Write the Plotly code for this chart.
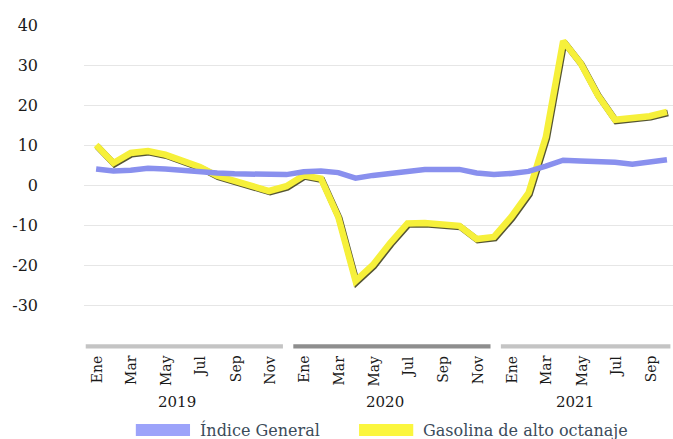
import plotly.graph_objects as go

# ---- data ----
month_names = ["Ene", "Feb", "Mar", "Abr", "May", "Jun", "Jul", "Ago", "Sep", "Oct", "Nov", "Dic"]
years = [2019, 2020, 2021]
n_months = 34  # Ene 2019 .. Oct 2021

indice_general = [4.0, 3.5, 3.7, 4.2, 4.0, 3.6, 3.3, 3.0, 2.8, 2.7, 2.6, 2.6,
                  3.3, 3.5, 3.1, 1.7, 2.4, 2.9, 3.4, 3.9, 3.9, 3.9, 3.0, 2.6,
                  2.9, 3.4, 4.7, 6.2, 6.0, 5.9, 5.7, 5.2, 5.8, 6.3]
gasolina = [10.0, 5.5, 8.0, 8.5, 7.6, 6.2, 4.5, 2.3, 1.0, -0.5, -1.5, -0.3,
            2.4, 1.6, -8.0, -24.0, -20.0, -14.5, -9.6, -9.5, -9.8, -10.2, -13.5, -13.0,
            -8.0, -2.0, 12.0, 36.0, 30.5, 22.5, 16.3, 16.7, 17.2, 18.3]
y_ticks = [-30, -20, -10, 0, 10, 20, 30, 40]

# ---- derived ----
cat_month = [month_names[i % 12] for i in range(n_months)]
cat_year = [years[0] + i // 12 for i in range(n_months)]
idx = list(range(n_months))

FONT = "DejaVu Serif"

fig = go.Figure()

# subtle dark shadow under the yellow line (3D look)
fig.add_trace(go.Scatter(
    x=[i + 0.06 for i in idx], y=[v - 0.3 for v in gasolina],
    mode="lines", line=dict(color="rgba(55,55,15,0.85)", width=6.5),
    hoverinfo="skip", showlegend=False))
fig.add_trace(go.Scatter(
    x=idx, y=gasolina, name="Gasolina de alto octanaje",
    mode="lines", line=dict(color="#f6f03a", width=6.5), showlegend=False))
fig.add_trace(go.Scatter(
    x=idx, y=indice_general, name="Índice General",
    mode="lines", line=dict(color="#8990ee", width=5.5), showlegend=False))

shapes = []
annotations = []
# year group bars + labels
for g, yr in enumerate(years):
    members = [i for i in idx if cat_year[i] == yr]
    first, last = members[0], members[-1]
    x0 = first - 0.6
    x1 = last - 0.2 if g < len(years) - 1 else last + 0.2
    shapes.append(dict(type="rect", xref="x", yref="paper", x0=x0, x1=x1,
                       y0=-0.011, y1=0.002, line=dict(width=0),
                       fillcolor="#8e8e8e" if g % 2 else "#c4c4c4"))
    annotations.append(dict(xref="x", yref="paper", x=(first + last) / 2 - 0.8, y=-0.178,
                            yanchor="middle", xanchor="center",
                            text=str(yr), showarrow=False,
                            font=dict(family=FONT, size=15, color="#1a1a1a")))

# month labels (every second month), top-aligned, rotated
tick_idx = [i for i in idx if i % 2 == 0]
for i in tick_idx:
    annotations.append(dict(xref="x", yref="paper", x=i + 0.05, y=-0.026,
                            xanchor="center", yanchor="top", textangle=-90,
                            text=cat_month[i], showarrow=False,
                            font=dict(family=FONT, size=14, color="#1a1a1a")))

# custom legend
legend_items = [("Índice General", "#9ca3fa", 0.088, 0.180),
                ("Gasolina de alto octanaje", "#fbf63e", 0.467, 0.559)]
for name, col, x0, x1 in legend_items:
    shapes.append(dict(type="rect", xref="paper", yref="paper", x0=x0, x1=x1,
                       y0=-0.284, y1=-0.247, line=dict(width=0), fillcolor=col))
    annotations.append(dict(xref="paper", yref="paper", x=x1 + 0.014, y=-0.266,
                            xanchor="left", yanchor="middle", text=name, showarrow=False,
                            font=dict(family=FONT, size=16, color="#3b4b5a")))

fig.update_layout(
    width=673, height=439,
    margin=dict(l=84, r=0, t=25, b=94, autoexpand=False),
    paper_bgcolor="white", plot_bgcolor="white",
    font=dict(family=FONT, color="#1a1a1a"),
    showlegend=False,
    shapes=shapes, annotations=annotations,
    xaxis=dict(range=[-0.7, 33.35], tickvals=tick_idx, showticklabels=False,
               showgrid=False, zeroline=False, showline=False,
               ticks="", automargin=False),
    yaxis=dict(range=[-40, 40], tickvals=y_ticks, ticktext=[str(v) for v in y_ticks],
               showgrid=True, gridcolor="#e6e6e6", gridwidth=1, automargin=False,
               zeroline=False, showline=False, ticks="", ticklabelstandoff=45,
               tickfont=dict(family=FONT, size=16, color="#1a1a1a")),
)

fig.write_html("out.html", config={"displayModeBar": False},
               post_script="document.body.style.margin='0px';")
